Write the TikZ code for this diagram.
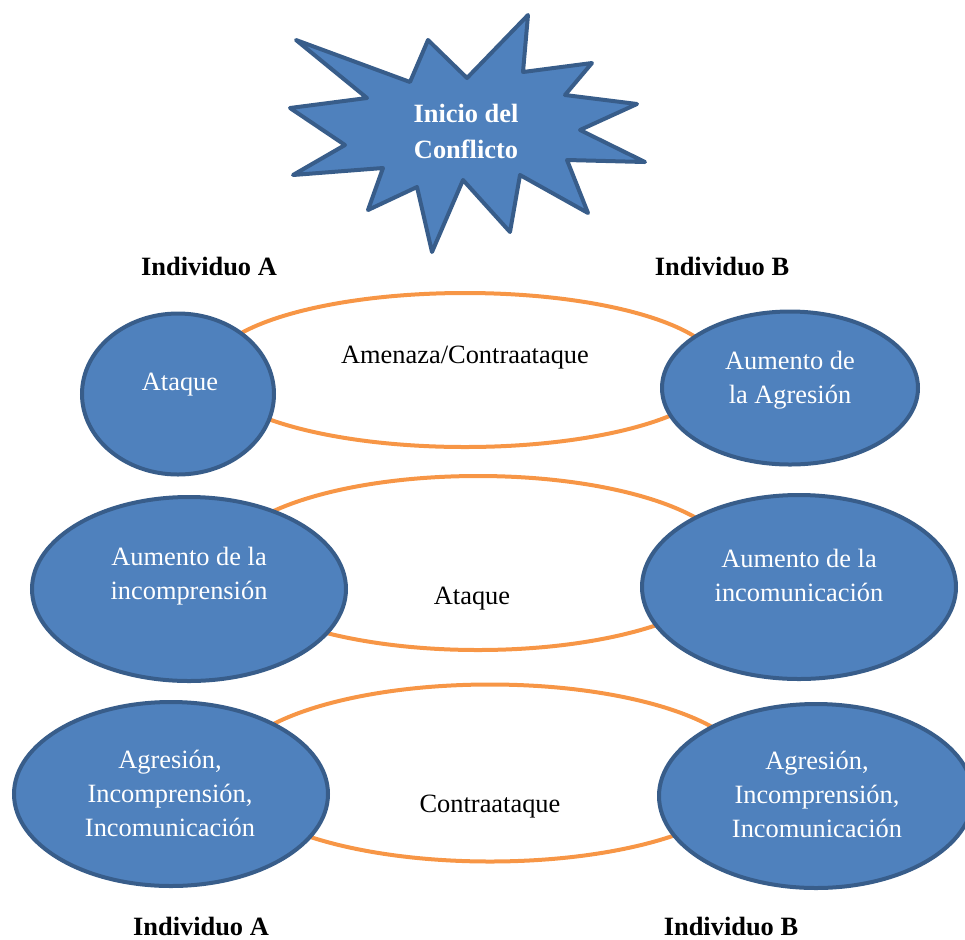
\documentclass[tikz,border=0pt]{standalone}
\usepackage{fontspec}
\setmainfont{Liberation Serif}
\usetikzlibrary{shapes.geometric}
\definecolor{azul}{HTML}{4F81BD}
\definecolor{azulborde}{HTML}{385D8A}
\definecolor{naranja}{HTML}{F79646}
\tikzset{
  mancha/.style={ellipse, draw=azulborde, fill=azul, line width=2pt, inner sep=0pt},
  anillo/.style={ellipse, draw=naranja, line width=2pt, inner sep=0pt},
  blanco/.style={text=white, align=center, font=\fontsize{13.2}{17}\selectfont},
  negro/.style={align=center, font=\fontsize{13.2}{17}\selectfont},
  titulo/.style={font=\fontsize{13.2}{17}\selectfont\bfseries},
}
\begin{document}
\begin{tikzpicture}[x=0.5pt, y=-0.5pt]
\useasboundingbox (0,0) rectangle (965,939);
% estallido
\draw[draw=azulborde, fill=azul, line width=2pt, line join=round]
  (296,40) -- (410,82) -- (428,40) -- (467,78) -- (528,15) -- (523,72)
  -- (592,63) -- (565,95) -- (637,104) -- (580,130) -- (645,162) -- (567,160)
  -- (588,213) -- (520,175) -- (510,232) -- (463,180) -- (432,252) -- (417,187)
  -- (368,210) -- (383,168) -- (293,175) -- (345,145) -- (290,108) -- (367,98) -- cycle;
\node[blanco, font=\fontsize{13.2}{18}\selectfont\bfseries] (inicio) at (466,131) {Inicio del\\Conflicto};
% titulos
\node[titulo] (indA1) at (209,266) {Individuo A};
\node[titulo] (indB1) at (722,266) {Individuo B};
\node[titulo] (indA2) at (201,926) {Individuo A};
\node[titulo] (indB2) at (731,926) {Individuo B};
% anillos
\node[anillo, minimum width=255pt, minimum height=77pt] (anillo1) at (465,370) {};
\node[anillo, minimum width=255pt, minimum height=87pt] (anillo2) at (478,563) {};
\node[anillo, minimum width=260pt, minimum height=88.5pt] (anillo3) at (490,773) {};
\node[negro] (rel1) at (465,358) {Amenaza/Contraataque};
\node[negro] (rel2) at (472,599) {Ataque};
\node[negro] (rel3) at (490,807) {Contraataque};
% individuo A
\node[mancha, minimum width=96pt, minimum height=80.5pt] (a1) at (178,394) {};
\node[mancha, minimum width=157pt, minimum height=92pt] (a2) at (189,589) {};
\node[mancha, minimum width=157pt, minimum height=92pt] (a3) at (171,794) {};
\node[blanco] (ta1) at (180,385) {Ataque};
\node[blanco] (ta2) at (189,576) {Aumento de la\\incomprensión};
\node[blanco] (ta3) at (170,793) {Agresión,\\Incomprensión,\\Incomunicación};
% individuo B
\node[mancha, minimum width=128pt, minimum height=76.5pt] (b1) at (790,388) {};
\node[mancha, minimum width=157pt, minimum height=92pt] (b2) at (799,587) {};
\node[mancha, minimum width=157pt, minimum height=92pt] (b3) at (816,796) {};
\node[blanco] (tb1) at (790,380) {Aumento de\\la Agresión};
\node[blanco] (tb2) at (799,575) {Aumento de la\\incomunicación};
\node[blanco] (tb3) at (817,794) {Agresión,\\Incomprensión,\\Incomunicación};
\end{tikzpicture}
\end{document}
